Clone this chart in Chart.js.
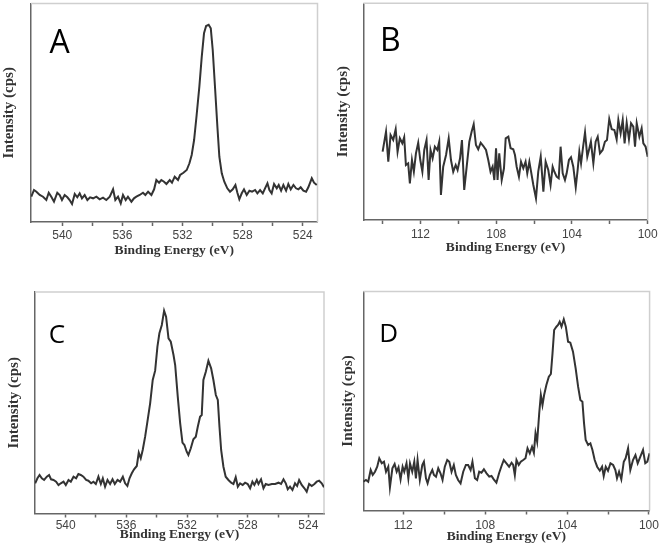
<!DOCTYPE html>
<html>
<head>
<meta charset="utf-8">
<script src="https://cdn.jsdelivr.net/npm/chart.js@4.4.0/dist/chart.umd.min.js"></script>
<style>
  body { margin: 0; background: #fff; }
  canvas { position: absolute; }
</style>
</head>
<body>
<canvas id="pa" width="331" height="276" style="left:0;top:0"></canvas>
<canvas id="pb" width="332" height="276" style="left:331px;top:0"></canvas>
<canvas id="pc" width="331" height="276" style="left:0;top:276px"></canvas>
<canvas id="pd" width="332" height="276" style="left:331px;top:276px"></canvas>
<script>
// values (intensity in arbitrary counts)
var aEnergy = [
  542.06, 541.88, 541.72, 541.50, 541.28, 541.06, 540.90, 540.73, 540.55, 540.33,
  540.17, 540.02, 539.84, 539.66, 539.51, 539.35, 539.17, 539.00, 538.84, 538.69,
  538.51, 538.33, 538.15, 537.95, 537.73, 537.51, 537.29, 537.07, 536.84, 536.62,
  536.47, 536.29, 536.11, 535.96, 535.78, 535.63, 535.40, 535.23, 535.07, 534.85,
  534.63, 534.47, 534.29, 534.07, 533.89, 533.74, 533.56, 533.41, 533.23, 533.07,
  532.85, 532.70, 532.52, 532.30,
  532.16, 531.94, 531.72, 531.54, 531.39, 531.23, 531.06, 530.88, 530.72, 530.57,
  530.43, 530.26, 530.12, 529.99, 529.84, 529.68, 529.55, 529.39, 529.22, 529.02,
  528.84, 528.66, 528.48, 528.35, 528.22, 528.06, 527.91, 527.73, 527.55, 527.37,
  527.17, 527.02, 526.84, 526.66, 526.51, 526.35, 526.22, 526.07, 525.91, 525.73,
  525.60, 525.44, 525.29, 525.11, 524.96, 524.80, 524.62, 524.45, 524.29, 524.14,
  523.96, 523.78, 523.63, 523.40, 523.25, 523.07
];
var aCounts = [
  25.3, 32, 30.3, 27, 25.3, 22, 29.3, 25.3, 20.3, 29.3,
  27, 22, 27, 24.7, 22, 18, 28, 24.7, 28.7, 23.7,
  27, 22, 24.7, 23.7, 25.3, 22.7, 24.3, 22, 25.3, 32.7,
  22, 25.3, 18.7, 27, 22, 25.3, 20.3, 23.7, 25.3, 27,
  29.3, 27, 30.3, 27, 32.7, 42, 39.3, 42, 40.3, 38,
  42, 39.3, 45.3, 42,
  47, 49.3, 52, 58.7, 67, 82, 107, 135.3, 165.3, 188.7,
  196, 197.3, 193.7, 172, 135.3, 95.3, 65.3, 48.7, 40.3, 33.7,
  30.3, 32.7, 37, 29.3, 22.7, 28.7, 32.7, 27, 31.3, 30.3,
  32, 28.7, 32, 28.7, 33.7, 38.7, 32, 28.7, 38, 33.7,
  37, 31.3, 37, 31.3, 38, 32.7, 37, 33.7, 32.7, 34.7,
  31.3, 30.3, 34.7, 43.7, 39.3, 37
];

var bEnergy = [
  114.00, 113.82, 113.70, 113.58, 113.44, 113.31, 113.21, 113.09, 112.96, 112.86,
  112.77, 112.65, 112.56, 112.45, 112.35, 112.24, 112.12, 112.01, 111.90, 111.80,
  111.68, 111.57, 111.47, 111.36, 111.24, 111.11, 111.01, 110.92, 110.80, 110.65,
  110.51, 110.39, 110.27, 110.14, 110.04, 109.91, 109.81, 109.69, 109.56, 109.42,
  109.30, 109.19, 109.07, 108.95, 108.82, 108.68, 108.54, 108.42, 108.30, 108.19,
  108.10, 108.01, 107.93, 107.84, 107.71, 107.59, 107.50, 107.36,
  107.24, 107.10, 107.01, 106.92, 106.80, 106.69, 106.57, 106.45, 106.36, 106.25,
  106.16, 106.04, 105.90, 105.78, 105.65, 105.51, 105.39, 105.25, 105.13, 105.02,
  104.93, 104.81, 104.70, 104.60, 104.49, 104.37, 104.28, 104.16, 104.05, 103.93,
  103.80, 103.70, 103.61, 103.52, 103.40, 103.31, 103.19, 103.08, 103.00, 102.87,
  102.75, 102.64, 102.52, 102.38, 102.26, 102.15, 102.03, 101.90, 101.76, 101.64,
  101.55, 101.43, 101.32, 101.22, 101.11, 100.99, 100.88, 100.76, 100.67, 100.58,
  100.44, 100.32, 100.23, 100.11, 100.00
];
var bCounts = [
  68.3, 88.3, 58.3, 85, 80, 90.7, 68.3, 81.7, 76.7, 82.7,
  55, 56.7, 36.7, 60, 48.3, 66.7, 77.3, 60, 48.3, 70,
  80, 40, 70, 61.7, 73.3, 70, 78.3, 25, 53.3, 65,
  81.7, 60, 48.3, 55, 50, 61.7, 80, 30, 53.3, 78.3,
  88.3, 95.7, 75, 70.7, 77.3, 74, 70, 60, 48.3, 53.3,
  40, 71.7, 40, 66.7, 40, 51.7, 81.7, 83.3,
  71.7, 70.7, 65, 53.3, 43.3, 58.3, 51.7, 58.3, 46.7, 58.3,
  48.3, 35, 21.7, 48.3, 63.3, 28.3, 58.3, 50, 35, 53.3,
  48.3, 43.3, 41.7, 73.3, 46.7, 40, 46.7, 60, 62.7, 53.3,
  32.7, 50, 68.3, 56.7, 75, 87.7, 63.3, 71.7, 78.3, 56.7,
  78.3, 83.3, 66.7, 70, 78.3, 80, 101, 90.7, 90, 80.7,
  100, 86.7, 100, 76.7, 97.3, 80.7, 96.7, 93.3, 73.3, 96.7,
  83.3, 91.7, 76.7, 73.3, 63.3
];

var cEnergy = [
  542.01, 541.86, 541.72, 541.57, 541.42, 541.24, 541.09, 540.96, 540.80, 540.63,
  540.47, 540.32, 540.14, 539.99, 539.81, 539.66, 539.48, 539.31, 539.16, 539.00,
  538.83, 538.65, 538.50, 538.32, 538.17, 538.01, 537.84, 537.68, 537.55, 537.40,
  537.24, 537.07, 536.91, 536.76, 536.58, 536.41, 536.23, 536.08, 535.93, 535.79,
  535.64, 535.49, 535.31, 535.18, 535.05, 534.92, 534.76, 534.61, 534.43, 534.26,
  534.10, 533.95, 533.82, 533.66, 533.51, 533.38, 533.22, 533.07, 532.89,
  532.78, 532.61, 532.45, 532.30, 532.17, 532.02, 531.91, 531.75, 531.58, 531.42,
  531.29, 531.14, 531.03, 530.92, 530.76, 530.59, 530.41, 530.26, 530.10, 529.97,
  529.86, 529.75, 529.60, 529.45, 529.27, 529.09, 528.94, 528.79, 528.65, 528.50,
  528.33, 528.17, 528.00, 527.84, 527.69, 527.56, 527.40, 527.29, 527.12, 526.96,
  526.81, 526.63, 526.41, 526.19, 525.97, 525.80, 525.64, 525.49, 525.36, 525.21,
  525.05, 524.88, 524.74, 524.61, 524.44, 524.26, 524.11, 523.95, 523.78, 523.60,
  523.45, 523.29, 523.12, 522.97
];
var cCounts = [
  30.2, 35.2, 38.5, 35.2, 33.5, 36.8, 38.5, 34.2, 33.5, 31.8,
  28.5, 30.2, 31.8, 28.5, 33.5, 31.8, 36.8, 35.2, 39.5, 38.5,
  36.8, 33.5, 32.8, 30.2, 31.8, 29.5, 36.8, 29.5, 35.2, 26.8,
  33.5, 29.5, 34.2, 29.5, 33.5, 31.8, 36.8, 30.2, 27.5, 35.2,
  40.2, 44.2, 47.5, 60.8, 55.2, 63.5, 76.8, 91.8, 110.2, 133.5,
  142.8, 166.8, 180.2, 188.5, 202.8, 196.8, 175.2, 171.8, 158.5,
  148.5, 116.8, 90.2, 70.8, 68.5, 61.8, 58.5, 65.2, 74.2, 76.8,
  86.8, 96.8, 98.5, 133.5, 141.8, 152.8, 145.2, 133.5, 118.5, 113.5,
  86.8, 63.5, 46.8, 36.8, 33.5, 30.8, 29.5, 36.2, 26.8, 30.2,
  28.5, 30.8, 29.5, 25.2, 31.8, 28.5, 33.5, 29.5, 34.2, 25.2,
  29.5, 28.5, 29.5, 29.5, 30.8, 29.5, 34.2, 30.2, 24.2, 26.8,
  23.5, 30.2, 27.5, 33.5, 28.5, 25.2, 21.8, 29.5, 27.5, 29.5,
  31.8, 32.8, 30.2, 26.2
];

var dEnergy = [
  113.95, 113.82, 113.71, 113.59, 113.49, 113.38, 113.27, 113.17, 113.05, 112.94,
  112.84, 112.73, 112.65, 112.53, 112.42, 112.32, 112.23, 112.13, 112.03, 111.95,
  111.84, 111.75, 111.67, 111.56, 111.46, 111.38, 111.30, 111.19, 111.07, 110.99,
  110.89, 110.81, 110.70, 110.58, 110.50, 110.40, 110.29, 110.18, 110.08, 109.97,
  109.85, 109.75, 109.64, 109.53, 109.43, 109.32, 109.20, 109.07, 108.94, 108.83,
  108.71, 108.62, 108.50, 108.39, 108.29, 108.18, 108.06, 107.93, 107.80, 107.69,
  107.58, 107.45, 107.32, 107.20, 107.09, 106.96, 106.83,
  106.71, 106.63, 106.55, 106.47, 106.36, 106.26, 106.14, 106.03, 105.93, 105.82,
  105.71, 105.62, 105.54, 105.46, 105.36, 105.28, 105.20, 105.12, 105.01, 104.89,
  104.79, 104.71, 104.63, 104.52, 104.44, 104.36, 104.27, 104.16, 104.06, 103.95,
  103.84, 103.71, 103.58, 103.46, 103.35, 103.25, 103.17, 103.09, 102.97, 102.86,
  102.76, 102.65, 102.53, 102.40, 102.29, 102.21, 102.11, 102.00, 101.88, 101.75,
  101.64, 101.56, 101.46, 101.35, 101.23, 101.14, 101.02, 100.91, 100.78, 100.66,
  100.55, 100.42, 100.29, 100.18, 100.08, 99.97
];
var dCounts = [
  28.8, 30.5, 28.8, 40.5, 35.5, 38.8, 43.8, 52.2, 47.2, 48.8,
  38.8, 43.8, 23.2, 42.2, 46.5, 38.8, 43.2, 31.2, 43.8, 38.8,
  47.2, 32.2, 47.2, 38.8, 48.8, 32.2, 50.5, 30.5, 45.5, 48.8,
  32.2, 27.2, 35.5, 40.5, 35.5, 33.8, 42.2, 37.2, 30.5, 43.8,
  50.5, 48.8, 38.8, 45.5, 35.5, 30.5, 27.2, 38.8, 45.5, 45.5,
  40.5, 48.8, 32.2, 30.5, 38.8, 37.8, 41.2, 37.2, 33.8, 34.5,
  31.2, 27.8, 37.2, 44.5, 50.5, 47.2, 43.8,
  47.8, 45.5, 35.5, 50.5, 45.5, 48.8, 50.5, 52.2, 62.2, 57.2,
  63.8, 57.8, 77.2, 68.8, 97.2, 115.5, 105.5, 115.5, 125.5, 133.8,
  136.5, 157.2, 180.5, 183.8, 185.5, 188.8, 183.8, 191.2, 183.8, 168.8,
  167.8, 158.8, 142.2, 123.8, 110.5, 108.8, 87.2, 70.5, 65.5, 67.2,
  60.5, 50.5, 43.8, 39.8, 43.8, 34.5, 43.8, 39.8, 47.2, 45.5,
  40.5, 32.2, 38.8, 31.2, 48.8, 52.2, 62.2, 40.5, 50.5, 55.5,
  47.2, 53.8, 60.5, 47.2, 48.8, 57.2
];

// axis ticks
var oTicks = [540, 538, 536, 534, 532, 530, 528, 526, 524];
var oLabels = [540, 536, 532, 528, 524];
var bTicks = [114, 112, 110, 108, 106, 104, 102, 100];
var dTicks = [112, 110, 108, 106, 104, 102, 100];
var siLabels = [112, 108, 104, 100];

// light grey frame on top/right + the panel letter
var panelDecor = {
  id: "decor",
  beforeDatasetsDraw: function (chart) {
    var a = chart.chartArea, ctx = chart.ctx;
    ctx.save();
    ctx.strokeStyle = "#cfcfcf";
    ctx.lineWidth = 1.5;
    ctx.beginPath();
    ctx.moveTo(a.left, a.top);
    ctx.lineTo(a.right, a.top);
    ctx.lineTo(a.right, a.bottom);
    ctx.stroke();
    ctx.restore();
  },
  afterDraw: function (chart, args, opts) {
    var ctx = chart.ctx;
    ctx.save();
    ctx.fillStyle = "#000";
    ctx.font = opts.size + 'px "Open Sans"';
    ctx.textBaseline = "alphabetic";
    ctx.fillText(opts.text, opts.x, opts.y);
    ctx.restore();
  }
};

function panel(id, energy, counts, xr, ymax, ticks, labels, lay) {
  var pts = energy.map(function (e, i) { return { x: e, y: counts[i] }; });
  return new Chart(document.getElementById(id), {
    type: "line",
    data: {
      datasets: [{
        data: pts,
        borderColor: "#333",
        borderWidth: 2,
        pointRadius: 0,
        tension: 0,
        fill: false
      }]
    },
    options: {
      responsive: false,
      animation: false,
      devicePixelRatio: 1,
      layout: { padding: { left: 0, top: lay.top, right: lay.right, bottom: 0 } },
      plugins: {
        legend: { display: false },
        tooltip: { enabled: false },
        decor: lay.letter
      },
      scales: {
        x: {
          type: "linear",
          reverse: true,
          min: xr[0],
          max: xr[1],
          afterBuildTicks: function (s) {
            s.ticks = ticks.map(function (v) { return { value: v }; });
          },
          afterFit: function (s) { s.height = lay.xh; },
          grid: { drawOnChartArea: false, drawTicks: true, tickLength: 4, tickWidth: 1.5, tickColor: "#666" },
          border: { display: true, color: "#666", width: 1.5 },
          ticks: {
            autoSkip: false,
            maxRotation: 0,
            padding: lay.tickPad,
            color: "#444",
            font: { family: '"Liberation Sans"', size: 12 },
            callback: function (v) { return labels.indexOf(v) >= 0 ? String(v) : ""; }
          },
          title: {
            display: true,
            text: "Binding Energy (eV)",
            color: "#333",
            font: { family: '"Liberation Serif"', size: 13.5, weight: "bold" },
            padding: { top: 0, bottom: lay.xTitlePad }
          }
        },
        y: {
          min: 0,
          max: ymax,
          afterFit: function (s) { s.width = lay.yw; },
          grid: { display: false },
          border: { display: true, color: "#666", width: 1.5 },
          ticks: { display: false },
          title: {
            display: true,
            text: "Intensity (cps)",
            color: "#333",
            font: { family: '"Liberation Serif"', size: 15, weight: "bold" },
            padding: { top: lay.yTitlePad, bottom: 0 }
          }
        }
      }
    },
    plugins: [panelDecor]
  });
}

panel("pa", aEnergy, aCounts, [523.02, 542.08], 218.5, oTicks, oLabels,
  { top: 3.5, right: 13.5, yw: 31, xh: 54, tickPad: 2, xTitlePad: 16.9, yTitlePad: 0.5,
    letter: { text: "A", x: 49.5, y: 52.7, size: 32 } });
panel("pb", bEnergy, bCounts, [100, 115.02], 216.7, bTicks, siLabels,
  { top: 3.3, right: 15.3, yw: 32.3, xh: 56, tickPad: 3.5, xTitlePad: 20.4, yTitlePad: 2.7,
    letter: { text: "B", x: 49, y: 50.7, size: 32 } });
panel("pc", cEnergy, cCounts, [522.97, 542.02], 221.5, oTicks, oLabels,
  { top: 16, right: 7, yw: 35, xh: 38.5, tickPad: 1, xTitlePad: 9.6, yTitlePad: 4.7,
    letter: { text: "C", x: 48.7, y: 67.3, size: 26 } });
panel("pd", dEnergy, dCounts, [99.97, 113.95], 219, dTicks, siLabels,
  { top: 15.5, right: 13, yw: 32.3, xh: 41.5, tickPad: 4, xTitlePad: 6.9, yTitlePad: 8.2,
    letter: { text: "D", x: 48.3, y: 65.7, size: 26 } });
</script>
</body>
</html>
